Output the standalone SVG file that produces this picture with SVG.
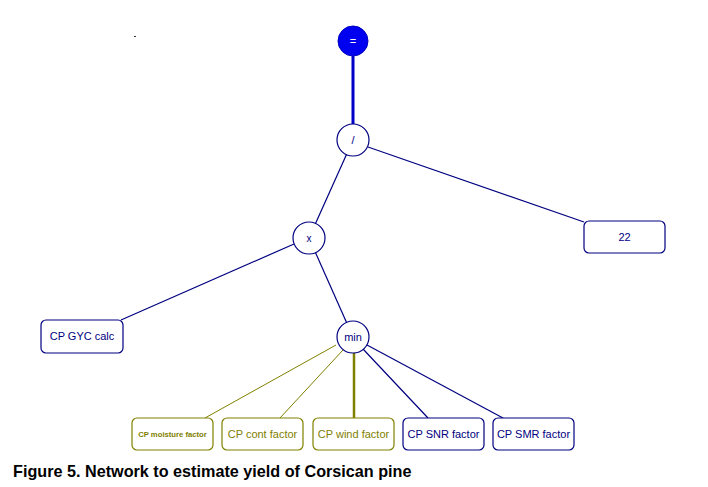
<svg xmlns="http://www.w3.org/2000/svg" width="708" height="487" viewBox="0 0 708 487">
<style>
.nv{stroke:#000080;fill:none;stroke-width:1.2}
.ol{stroke:#808000;fill:none;stroke-width:1}
.circ{fill:#fff;stroke:#000080;stroke-width:1.2}
.boxb{fill:#fff;stroke:#000080;stroke-width:1.2}
.boxo{fill:#fff;stroke:#808000;stroke-width:1.2}
.t{font-family:"Liberation Sans",Arial,sans-serif;font-size:11px;text-anchor:middle}
.tb{fill:#000080}
.to{fill:#808000}
</style>
<rect width="708" height="487" fill="#fff"/>
<rect x="134" y="36" width="2" height="1" fill="#333"/>
<g id="connectors">
<line x1="353" y1="56" x2="353" y2="124" stroke="#0000c8" stroke-width="3"/>
<line class="nv" x1="353" y1="140" x2="309" y2="238"/>
<line class="nv" x1="368" y1="147" x2="584" y2="222"/>
<line class="nv" x1="294" y1="244" x2="121" y2="320"/>
<line class="nv" x1="309" y1="238" x2="353" y2="337"/>
<line class="ol" x1="336" y1="345" x2="205" y2="418"/>
<line class="ol" x1="343" y1="350" x2="280" y2="418"/>
<line x1="354" y1="352" x2="354" y2="418" stroke="#808000" stroke-width="2.5"/>
<line class="nv" x1="363" y1="349" x2="428" y2="418"/>
<line class="nv" x1="367" y1="345" x2="503" y2="418"/>
</g>
<g id="n-eq"><circle cx="353" cy="41" r="15" fill="#0000f0" stroke="#0000c0"/><text class="t" x="353" y="45" fill="#fff">=</text></g>
<g id="n-div"><circle class="circ" cx="353" cy="140" r="16"/><text class="t tb" x="353" y="144">/</text></g>
<g id="n-x"><circle class="circ" cx="309" cy="238" r="16"/><text class="t tb" x="309" y="242" style="font-size:10px">x</text></g>
<g id="n-22"><rect class="boxb" x="584" y="221" width="81" height="32" rx="5"/><text class="t tb" x="624.5" y="241">22</text></g>
<g id="n-gyc"><rect class="boxb" x="41" y="320" width="82" height="33" rx="5"/><text class="t tb" x="82" y="340">CP GYC calc</text></g>
<g id="n-min"><circle class="circ" cx="353" cy="337" r="16"/><text class="t tb" x="353" y="341">min</text></g>
<g id="n-moist"><rect class="boxo" x="132" y="418" width="81" height="32" rx="5"/><text class="t to" x="172.5" y="437" style="font-size:7.7px;font-weight:bold">CP moisture factor</text></g>
<g id="n-cont"><rect class="boxo" x="222" y="418" width="81" height="32" rx="5"/><text class="t to" x="262.5" y="438">CP cont factor</text></g>
<g id="n-wind"><rect class="boxo" x="313" y="418" width="81" height="32" rx="5"/><text class="t to" x="353.5" y="438">CP wind factor</text></g>
<g id="n-snr"><rect class="boxb" x="403" y="418" width="81" height="32" rx="5"/><text class="t tb" x="443.5" y="438">CP SNR factor</text></g>
<g id="n-smr"><rect class="boxb" x="493" y="418" width="81" height="32" rx="5"/><text class="t tb" x="533.5" y="438">CP SMR factor</text></g>
<text x="13" y="477" font-family="'Liberation Sans',Arial,sans-serif" font-size="16.2" font-weight="bold" fill="#000">Figure 5. Network to estimate yield of Corsican pine</text>
</svg>
